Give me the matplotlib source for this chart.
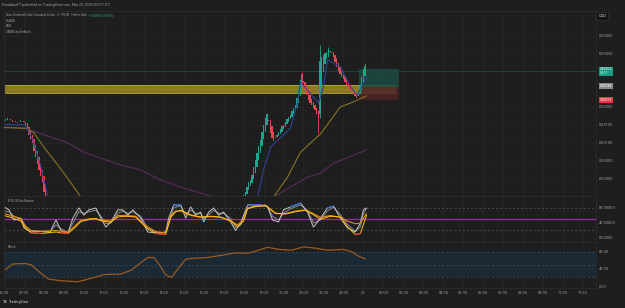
import numpy as np
import matplotlib
matplotlib.use("Agg")
from matplotlib import pyplot as plt
from matplotlib.transforms import blended_transform_factory

plt.rcParams['font.family'] = ['Roboto', 'DejaVu Sans']

# ---- data (hours since Mar 19 00:00, 5 min bars) ----
bars_a_start = 6.0
closes_a = [0.83160, 0.83165, 0.83168, 0.83166, 0.83162, 0.83158, 0.83160, 0.83157,
            0.83155, 0.83158, 0.83162, 0.83160, 0.83158, 0.83148, 0.83135, 0.83122,
            0.83110, 0.83098, 0.83075, 0.83060, 0.83040, 0.83022, 0.83005, 0.82990,
            0.82960, 0.82935]
bars_b_start = 18.0
closes_b = [0.82950, 0.82962, 0.82975, 0.82988, 0.82995, 0.83010, 0.83030, 0.83050,
            0.83072, 0.83090, 0.83108, 0.83130, 0.83150, 0.83168, 0.83180, 0.83160,
            0.83128, 0.83112, 0.83105, 0.83112, 0.83120, 0.83130, 0.83138, 0.83145,
            0.83150, 0.83158, 0.83165, 0.83172, 0.83178, 0.83188, 0.83198, 0.83205,
            0.83225, 0.83248, 0.83275, 0.83292, 0.83268, 0.83250, 0.83232, 0.83220,
            0.83212, 0.83205, 0.83198, 0.83190, 0.83180, 0.83172, 0.83330, 0.83340,
            0.83345, 0.83350, 0.83355, 0.83360, 0.83358, 0.83352, 0.83340, 0.83325,
            0.83312, 0.83300, 0.83292, 0.83285, 0.83278, 0.83270, 0.83262, 0.83255,
            0.83248, 0.83240, 0.83235, 0.83230, 0.83226, 0.83240, 0.83262, 0.83285,
            0.83305, 0.83315, 0.83300]
# notable wicks: (time, low, high)
wicks = [(20.917, 0.83260, 0.83297), (21.75, 0.83126, 0.83180), (21.833, 0.83170, 0.83374),
         (22.25, 0.83340, 0.83368), (24.083, 0.83290, 0.83322)]

hull_t = [6.0, 7.0, 7.1, 7.45, 7.7, 7.85, 8.0, 8.2, 18.7, 19.0, 19.35, 19.6, 20.0, 20.35,
          20.7, 20.85, 21.2, 21.75, 22.0, 22.2, 22.85, 23.35, 23.7, 23.95, 24.2]
hull_v = [0.83150, 0.83150, 0.83145, 0.83107, 0.83059, 0.83031, 0.82995, 0.82947, 0.82947,
          0.83023, 0.83087, 0.83101, 0.83121, 0.83141, 0.83211, 0.83270, 0.83247, 0.83211,
          0.83256, 0.83332, 0.83312, 0.83256, 0.83233, 0.83262, 0.83284]
ema_t = [6.0, 7.1, 7.5, 8.0, 8.5, 9.0, 9.5, 9.85, 19.5, 20.2, 20.85, 21.85, 22.85, 23.5, 24.15]
ema_v = [0.83142, 0.83140, 0.83127, 0.83087, 0.83051, 0.83014, 0.82975, 0.82947, 0.82947,
         0.83003, 0.83073, 0.83124, 0.83200, 0.83214, 0.83231]
smma_t = [6.0, 7.1, 8.35, 9.2, 10.0, 10.85, 11.85, 12.85, 13.85, 14.85, 15.85, 16.5, 19.5,
          21.2, 21.85, 22.5, 24.15]
smma_v = [0.83143, 0.83140, 0.83115, 0.83099, 0.83073, 0.83056, 0.83037, 0.83023, 0.82995,
          0.82975, 0.82958, 0.82947, 0.82947, 0.83003, 0.83014, 0.83042, 0.83079]

zone_lo, zone_hi, zone_end = 0.83239, 0.83262, 25.65
pos_start, pos_end = 23.8, 25.8
pos_target, pos_entry, pos_stop = 0.83306, 0.83256, 0.83219
last_price = 0.83300

price_ticks = [0.83000, 0.83050, 0.83100, 0.83150, 0.83200, 0.83350, 0.83400]

osc_t1 = [6.0, 6.25, 6.5, 6.85, 7.0, 7.35, 7.8, 8.3, 8.6, 8.85, 9.2, 9.45, 9.75, 10.0, 10.25,
          10.6, 10.85, 11.1, 11.35, 11.7, 11.95, 12.2, 12.45, 12.85, 13.2, 13.7, 14.1, 14.25,
          14.5, 14.85, 15.1, 15.35, 15.6, 15.85, 16.0, 16.25, 16.5, 16.75, 17.0, 17.35, 17.6,
          17.85, 18.2, 18.85, 19.2, 19.45, 19.75, 20.0, 20.35, 20.85, 21.2, 21.5, 21.85, 22.2,
          22.5, 22.85, 23.2, 23.6, 23.85, 24.0, 24.15]
grey_fast = [83, 75, 48, 53, 27, 16, 18, 15, 48, 20, 13, 53, 80, 61, 75, 80, 53, 29, 43, 75, 75,
             61, 75, 53, 16, 13, 16, 53, 88, 88, 53, 83, 61, 69, 43, 69, 80, 61, 69, 43, 20, 40,
             88, 88, 83, 48, 43, 75, 83, 93, 69, 29, 53, 80, 85, 53, 27, 16, 40, 75, 80]
grey_slow = [72, 70, 58, 50, 35, 20, 17, 17, 35, 25, 15, 40, 70, 66, 70, 74, 58, 38, 40, 66, 72,
             66, 70, 58, 25, 14, 14, 40, 80, 86, 62, 74, 66, 66, 52, 62, 74, 66, 66, 52, 28, 34,
             80, 86, 84, 58, 48, 66, 78, 88, 74, 40, 48, 72, 82, 62, 36, 18, 30, 65, 78]
osc_t2 = [6.0, 6.35, 6.85, 7.1, 7.35, 7.85, 8.6, 8.85, 9.2, 9.6, 9.85, 10.35, 10.6, 10.85,
          11.35, 11.7, 12.1, 12.6, 12.85, 13.2, 13.6, 14.1, 14.35, 14.6, 14.85, 15.35, 15.85,
          16.35, 16.85, 17.35, 17.7, 18.0, 18.2, 18.6, 19.1, 19.6, 20.1, 20.6, 21.1, 21.5,
          21.85, 22.35, 22.85, 23.2, 23.6, 23.85, 24.15]
orange = [65, 60, 52, 30, 20, 18, 20, 18, 15, 35, 47, 52, 50, 48, 45, 60, 60, 58, 45, 30, 17,
          14, 60, 72, 72, 60, 55, 57, 55, 45, 35, 50, 80, 85, 88, 65, 65, 72, 75, 65, 55, 60,
          55, 45, 38, 40, 65]
yellow = [60, 55, 45, 25, 14, 12, 16, 14, 12, 30, 44, 50, 52, 46, 42, 56, 58, 56, 42, 24, 12,
          10, 55, 70, 74, 62, 56, 58, 56, 46, 30, 45, 78, 84, 86, 66, 64, 70, 74, 62, 50, 58,
          56, 30, 9, 12, 60]

stoch_t = [6.05, 6.45, 7.05, 7.35, 7.85, 8.25, 8.85, 9.65, 10.05, 10.65, 11.05, 11.85, 12.4,
           12.8, 13.2, 13.5, 13.8, 14.1, 14.4, 14.6, 15.1, 15.4, 16.2, 17.0, 17.6, 18.2, 18.6,
           19.2, 19.8, 20.4, 21.0, 21.6, 22.2, 23.0, 23.4, 23.8, 24.1]
stoch_k = [38, 52, 53, 50, 30, 16, 12.5, 10, 14, 22, 27, 28, 38, 53, 67, 67, 49, 26, 20, 34,
           63, 65, 67, 73, 78, 77, 82, 91, 86, 84, 92, 89, 84, 86, 81, 69, 64]

hours = list(range(6, 36))
hour_labels = ['20' if h == 24 else '%02d:00' % (h % 24) for h in hours]

# ---- style ----
BG = '#1e1e1e'
GRID = '#262626'
TXT = '#9b9b9b'
UP = '#1fa38d'
DN = '#e84650'
FS = 2.9

W, H = 625, 308
fig = plt.figure(figsize=(W / 100, H / 100), dpi=100, facecolor=BG)

def pane(top, bottom):
    return fig.add_axes([4 / W, 1 - bottom / H, 592 / W, (bottom - top) / H], facecolor=BG)

ax = pane(11, 196)
axo = pane(196, 242)
axs = pane(242, 288)

for a in (ax, axo, axs):
    a.set_xlim(6.05, 35.65)
    a.set_xticks(hours)
    a.grid(True, color=GRID, lw=0.5)
    a.tick_params(length=0, labelsize=FS, colors=TXT, pad=2)
    a.yaxis.tick_right()
    for s in a.spines.values():
        s.set_color('#2c2c2c')
        s.set_linewidth(0.6)
    a.set_axisbelow(True)
ax.set_xticklabels([])
axo.set_xticklabels([])
axs.set_xticklabels(hour_labels)

# ---- main pane ----
ax.set_ylim(0.82950, 0.83469)
ax.set_yticks(price_ticks)
ax.set_yticklabels(['%.5f' % p for p in price_ticks])

ax.axhline(last_price, color='#1d4a43', lw=0.6)
ax.fill_between([6.05, zone_end], zone_lo, zone_hi, color='#8f7f25', alpha=0.95, lw=0, zorder=1)
ax.plot([6.05, zone_end], [zone_hi] * 2, color='#b9a736', lw=0.6, zorder=1)
ax.plot([6.05, zone_end], [zone_lo] * 2, color='#b9a736', lw=0.6, zorder=1)
ax.plot([6.05, zone_end], [(zone_lo + zone_hi) / 2] * 2, color='#c68a2a', lw=0.4, ls=(0, (1, 1)), zorder=1)
ax.fill_between([pos_start, pos_end], pos_entry, pos_target, color='#1c4a42', alpha=0.85, lw=0, zorder=2)
ax.fill_between([pos_start, pos_end], pos_stop, pos_entry, color='#4c2326', alpha=0.85, lw=0, zorder=2)

# heikin ashi bodies: open = mean of previous bar's open and close
bw = 5 / 60
for start, closes in ((bars_a_start, closes_a), (bars_b_start, closes_b)):
    c = np.array(closes)
    t = start + bw * np.arange(len(c))
    o = np.empty_like(c)
    o[0] = c[0]
    for i in range(1, len(c)):
        o[i] = (o[i - 1] + c[i - 1]) / 2
    col = np.where(c >= o, UP, DN)
    ax.bar(t, np.maximum(np.abs(c - o), 0.000015), bottom=np.minimum(o, c), width=bw * 0.8,
           color=col, lw=0, zorder=3)
for tw, lo, hi in wicks:
    ax.vlines(tw, lo, hi, color=UP if hi > 0.8335 else DN, lw=0.6, zorder=3)

ax.plot(smma_t, smma_v, color='#5c2a5e', lw=0.8, zorder=4)
ax.plot(ema_t, ema_v, color='#857421', lw=0.8, zorder=4)
ax.plot(hull_t, hull_v, color='#2c4594', lw=0.8, zorder=4)

tr = blended_transform_factory(ax.transAxes, ax.transData)
for y, lab, fc in ((last_price, '0.83300\n00:11', '#1d9c84'), (0.83258, '0.83258', '#8a8a8a'),
                   (0.83219, '0.83219', '#e23a45')):
    ax.text(1.006, y, lab, transform=tr, fontsize=FS * 0.85, color='white', va='center', ha='left',
            linespacing=0.9, clip_on=False, zorder=6,
            bbox=dict(boxstyle='square,pad=0.25', fc=fc, ec='none'))
ax.text(1.004, 0.975, 'CAD', transform=ax.transAxes, fontsize=FS, color='#cfcfcf', va='center',
        ha='left', clip_on=False,
        bbox=dict(boxstyle='square,pad=0.5', fc='#141414', ec='#333333', lw=0.5))

# ---- oscillator pane ----
axo.set_ylim(-10.7, 112)
axo.set_yticks([0, 40, 80])
axo.set_yticklabels(['0.00000', '40.00000', '80.00000'])
axo.grid(False, axis='y')
for lvl in (80, 20):
    axo.axhline(lvl, color='#555555', lw=0.5, ls=(0, (3, 3)))
axo.axhline(50, color='#9c27b0', lw=0.9)
gf = np.array(grey_fast, float)
gs = np.array(grey_slow, float)
ye = np.array(yellow, float)
axo.plot(osc_t1, gs, color='#8c8c8c', lw=0.7)
axo.plot(osc_t1, gf, color='#c4c4c4', lw=0.7)
axo.plot(osc_t1, np.where(gf >= 80, gf, np.nan), color='#2f6fd8', lw=0.9)
axo.plot(osc_t2, orange, color='#e08a12', lw=0.8)
axo.plot(osc_t2, ye, color='#ffc21a', lw=0.7)
axo.plot(osc_t2, np.where(ye <= 14, ye, np.nan), color='#e53935', lw=0.9)
axo.text(0.007, 0.9, 'R.S.I.S Oscillators', transform=axo.transAxes, fontsize=FS * 0.8,
         color='#aaaaaa', va='center')

# ---- stoch pane ----
axs.set_ylim(-4.7, 103.5)
axs.set_yticks([0, 40, 80])
axs.set_yticklabels(['0.00', '40.00', '80.00'])
axs.grid(False, axis='y')
axs.axhspan(20, 80, color='#1b2935', lw=0)
for lvl in (80, 50, 20):
    axs.axhline(lvl, color='#44505c', lw=0.5, ls=(0, (3, 3)))
axs.plot(stoch_t, stoch_k, color='#9a5a22', lw=0.9)
axs.text(0.007, 0.9, 'Stoch', transform=axs.transAxes, fontsize=FS * 0.8, color='#aaaaaa',
         va='center')

# ---- header / footer texts ----
def ftext(x, y, s, **kw):
    return fig.text(x / W, 1 - y / H, s, fontsize=kw.pop('fs', FS), color=kw.pop('color', TXT),
                    va='center', ha='left', **kw)

LFS = 2.15
ftext(2, 5, 'PandaborFT published on TradingView.com, Mar 20, 2025 00:07 UTC', fs=2.5)
sym = ftext(6, 15, 'New Zealand Dollar/Canadian Dollar \u00b7 5 \u00b7 FXCM \u00b7 Heikin Ashi', fs=LFS)
# change text sits right after the symbol line
ax.annotate('+0.00000 (+0.00%)', xy=(1, 0.5), xycoords=sym, xytext=(2.5, 0),
            textcoords='offset pixels', fontsize=LFS, color='#1fa38d', va='center', ha='left',
            annotation_clip=False)
ftext(6, 20.5, 'HullMA', fs=LFS)
ftext(6, 26, 'EMA', fs=LFS)
ftext(6, 31.5, 'SMMA by SetBach', fs=LFS)
ftext(3, 302, 'TV', fs=2.6, color='#cfcfcf', fontweight='bold')
ftext(8.5, 302, 'TradingView', fs=2.6, color='#cfcfcf')

fig.savefig('out.png', dpi=100, facecolor=BG)
